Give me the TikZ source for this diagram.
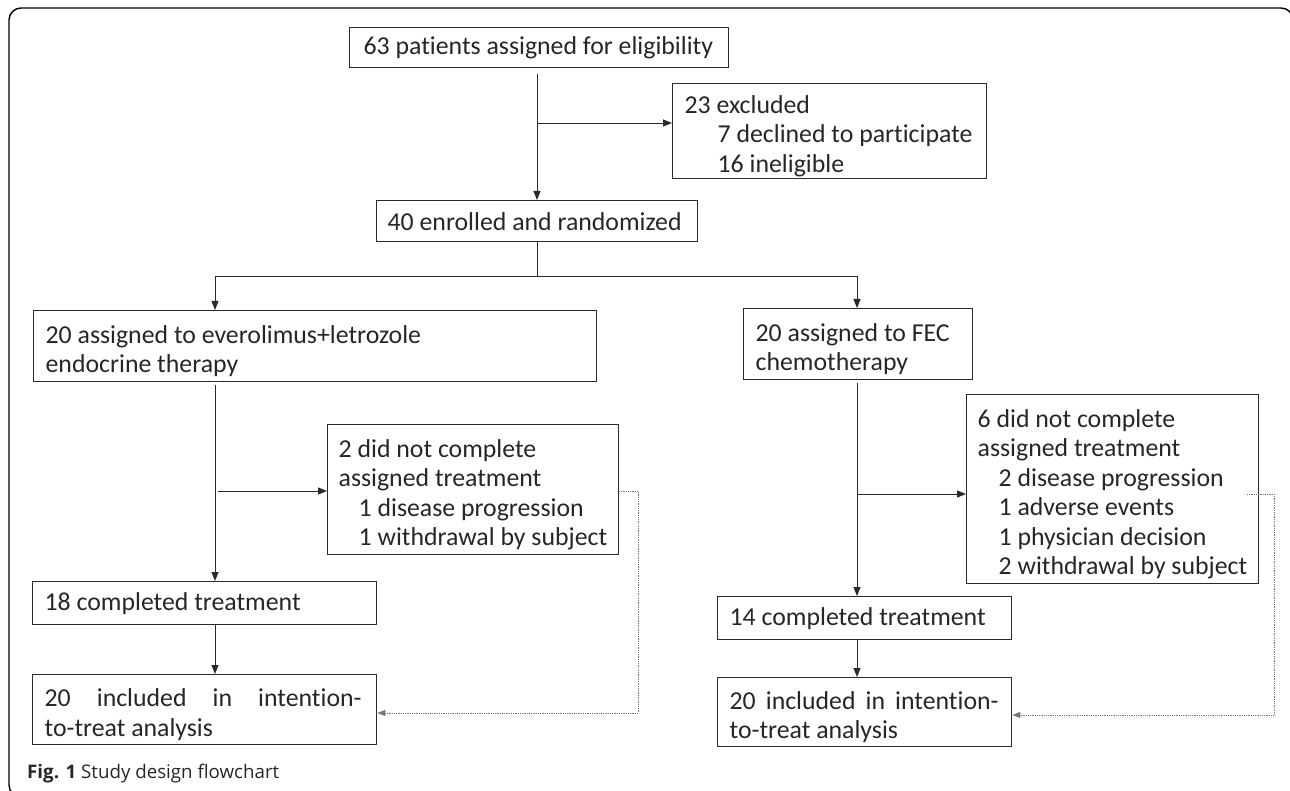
\documentclass[tikz,border=0pt]{standalone}
\usepackage{fontspec}
\setmainfont{Carlito}[Ligatures=NoCommon]
\newfontfamily\capfont{Open Sans}
\usetikzlibrary{arrows.meta,calc}
\definecolor{boxc}{HTML}{2A2A2A}
\definecolor{txtc}{HTML}{262626}
\definecolor{dotc}{HTML}{777777}
\newcommand{\fsz}{\fontsize{25.8}{29.5}\selectfont}
\newcommand{\fl}[2]{\makebox[#1][l]{\rule{0pt}{19pt}#2}}
\newcommand{\fm}[2]{\makebox[#1][l]{\rule{0pt}{28pt}#2}}
\newcommand{\jline}[2]{\hbox to #1{#2}}
\begin{document}
\begin{tikzpicture}[x=1pt,y=-1pt,
  box/.style={draw=boxc, line width=1.3pt, inner xsep=12pt, inner ysep=0pt,
    anchor=north west, align=left, font=\fsz, text=txtc},
  arr/.style={draw=boxc, line width=0.9pt, -{Triangle[length=9pt,width=7pt]}},
  ln/.style={draw=boxc, line width=0.9pt},
  dotarr/.style={draw=dotc, line width=0.8pt, densely dotted, -{Triangle[length=8pt,width=6pt]}}]
\useasboundingbox (0,0) rectangle (1290,791);
\begin{scope}
\clip (0,0) rectangle (1290,791);
\draw[black, line width=1.4pt, rounded corners=12pt] (9,8) rectangle (1293,797);
\end{scope}

% boxes
\node[box, minimum width=379pt, minimum height=40pt, inner xsep=14pt] (b1) at (349,27) {\fl{351pt}{63 patients assigned for eligibility}};
\node[box, minimum width=314pt, minimum height=95pt] (excl) at (672,83) {\fm{290pt}{23 excluded}\\\hspace*{33pt}7 declined to participate\\\hspace*{33pt}16 ineligible};
\node[box, minimum width=321pt, minimum height=41pt, inner xsep=11pt] (b2) at (376,200) {\fl{299pt}{40 enrolled and randomized}};
\node[box, minimum width=563pt, minimum height=71pt] (armL) at (33,310) {\fm{539pt}{20 assigned to everolimus+letrozole}\\endocrine therapy};
\node[box, minimum width=229pt, minimum height=71pt] (armR) at (743,308) {\fm{205pt}{20 assigned to FEC}\\chemotherapy};
\node[box, minimum width=281pt, minimum height=130pt, inner xsep=11pt] (fail1) at (327,424) {\fm{259pt}{2 did not complete}\\assigned treatment\\\hspace*{20pt}1 disease progression\\\hspace*{20pt}1 withdrawal by subject};
\node[box, minimum width=292pt, minimum height=189pt, inner xsep=11pt] (fail2) at (966,394) {\fm{270pt}{6 did not complete}\\assigned treatment\\\hspace*{21pt}2 disease progression\\\hspace*{21pt}1 adverse events\\\hspace*{21pt}1 physician decision\\\hspace*{21pt}2 withdrawal by subject};
\node[box, minimum width=344pt, minimum height=43pt] (compL) at (32,581) {\fl{320pt}{18 completed treatment}};
\node[box, minimum width=294pt, minimum height=43pt] (compR) at (717,596) {\fl{270pt}{14 completed treatment}};
\node[box, minimum width=344pt, minimum height=70pt] (ittL) at (32,674) {\fm{320pt}{\jline{317pt}{20\hfill included\hfill in\hfill intention-}}\\to-treat analysis};
\node[box, minimum width=294pt, minimum height=69pt] (ittR) at (717,677) {\fm{270pt}{\jline{269pt}{20\hfill included\hfill in\hfill intention-}}\\to-treat analysis};

% caption
\node[anchor=base west, inner sep=0pt, font=\capfont, text=txtc] (cap) at (27,778) {\resizebox{252pt}{!}{\textbf{Fig. 1} Study design flowchart}};

% junction coordinates
\coordinate (j1) at (537,123);
\coordinate (cL) at (215,276);
\coordinate (cR) at (857,276);
\coordinate (sL) at (218,491);
\coordinate (sR) at (857,494);
\coordinate (dL1) at (638,491);
\coordinate (dL2) at (638,713);
\coordinate (dR0) at (1247,494);
\coordinate (dR1) at (1274,494);
\coordinate (dR2) at (1274,715);

% connectors
\draw[arr, shorten <=6pt] (b1.south -| j1) -- (b2.north -| j1);
\draw[arr] (j1) -- (j1 -| excl.west);
\draw[ln] (b2.south -| j1) -- (j1 |- cL);
\draw[ln] (cL) -- (cR);
\draw[arr] (cL) -- (cL |- armL.north);
\draw[arr] (cR) -- (cR |- armR.north);
\draw[arr, shorten <=3pt] (cL |- armL.south) -- (cL |- compL.north);
\draw[arr] (sL) -- (sL -| fail1.west);
\draw[arr] (cL |- compL.south) -- (cL |- ittL.north);
\draw[dotarr] (fail1.east |- dL1) -- (dL1) -- (dL2) -- (dL2 -| ittL.east);
\draw[arr, shorten <=3pt] (cR |- armR.south) -- (cR |- compR.north);
\draw[arr] (sR) -- (sR -| fail2.west);
\draw[arr] (cR |- compR.south) -- (cR |- ittR.north);
\draw[dotarr] (dR0) -- (dR1) -- (dR2) -- (dR2 -| ittR.east);
\end{tikzpicture}
\end{document}
